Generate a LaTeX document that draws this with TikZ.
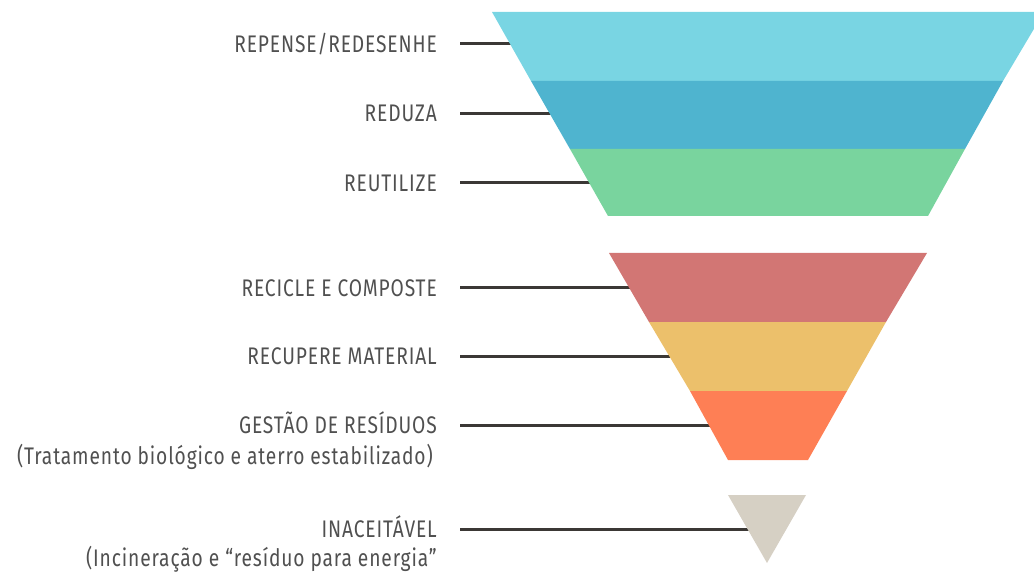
\documentclass[tikz,border=0pt]{standalone}
\usepackage{fontspec}
\setmainfont[FakeStretch=0.8,LetterSpace=3.6]{Fira Sans}
\definecolor{cA}{HTML}{79D5E3}
\definecolor{cB}{HTML}{4FB4CF}
\definecolor{cC}{HTML}{79D49E}
\definecolor{cD}{HTML}{D27674}
\definecolor{cE}{HTML}{ECC06B}
\definecolor{cF}{HTML}{FE7F55}
\definecolor{cG}{HTML}{D6D0C4}
\definecolor{linegray}{HTML}{3B3835}
\definecolor{txtgray}{HTML}{505050}
\begin{document}
\begin{tikzpicture}[x=1pt,y=-1pt,
  lbl/.style={anchor=base east, inner sep=0pt, text=txtgray, font=\fontsize{24}{28}\selectfont},
  conn/.style={draw=linegray, line width=3pt}]
\useasboundingbox (0,0) rectangle (1034,572);
% anchor points of connectors
\coordinate (s1) at (460,44);
\coordinate (s2) at (460,114);
\coordinate (s3) at (460,183);
\coordinate (s4) at (460,288);
\coordinate (s5) at (460,356);
\coordinate (s6) at (460,425);
\coordinate (s7) at (460,529);
\coordinate (b1) at (768,44);
\coordinate (b2) at (768,114);
\coordinate (b3) at (768,183);
\coordinate (b4) at (768,288);
\coordinate (b5) at (768,356);
\coordinate (b6) at (768,425);
\coordinate (b7) at (768,529);
% connectors (behind the bands)
\foreach \i in {1,...,7} \draw[conn] (s\i) -- (b\i);
% bands
\fill[cA] (492,12) -- (1044,12) -- (1003,81) -- (531,81) -- cycle;
\fill[cB] (531,81) -- (1003,81) -- (965,149) -- (570,149) -- cycle;
\fill[cC] (570,149) -- (965,149) -- (928,216) -- (608,216) -- cycle;
\fill[cD] (609,253) -- (927,253) -- (886,322) -- (649,322) -- cycle;
\fill[cE] (649,322) -- (886,322) -- (847,391) -- (690,391) -- cycle;
\fill[cF] (690,391) -- (847,391) -- (808,460) -- (728,460) -- cycle;
\fill[cG] (728,495) -- (806,495) -- (767,563) -- cycle;
% labels
\node[lbl] (l1) at (437,52.5) {REPENSE/REDESENHE};
\node[lbl] (l2) at (437,122) {REDUZA};
\node[lbl] (l3) at (437,192) {REUTILIZE};
\node[lbl] (l4) at (437,296.5) {RECICLE E COMPOSTE};
\node[lbl] (l5) at (437,364.5) {RECUPERE MATERIAL};
\node[lbl] (l6) at (437,433.5) {GESTÃO DE RESÍDUOS};
\node[lbl] (l6b) at (433,464) {(Tratamento biológico e aterro estabilizado)};
\node[lbl] (l7) at (437,537.5) {INACEITÁVEL};
\node[lbl] (l7b) at (437,566) {(Incineração e “resíduo para energia”};
\end{tikzpicture}
\end{document}
